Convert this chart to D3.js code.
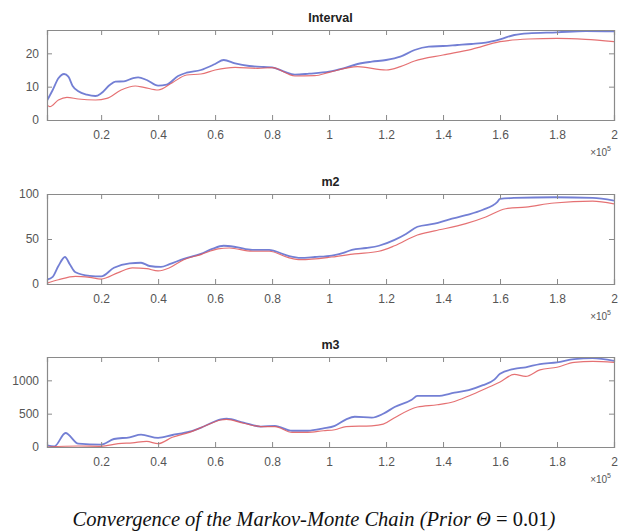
<!DOCTYPE html>
<html><head><meta charset="utf-8">
<script src="https://cdn.jsdelivr.net/npm/d3@7"></script>
<style>
body{margin:0;background:#fff;}
svg{display:block;}
</style></head>
<body>
<script>
// ---- data (x in units of 1e5 iterations) ----
const xTicks = [0.2,0.4,0.6,0.8,1,1.2,1.4,1.6,1.8,2];
const titles = ["Interval","m2","m3"];
const yDomains = [[0,27],[0,100],[0,1350]];
const yTicks = [[0,10,20],[0,50,100],[0,500,1000]];

const intervalBlue = [[0.01,5.8],[0.03,9],[0.05,12.5],[0.07,13.8],[0.085,13],[0.1,10.2],[0.12,8.6],[0.15,7.6],[0.18,7.2],[0.2,8],[0.23,10.5],[0.25,11.5],[0.28,11.6],[0.31,12.5],[0.33,12.8],[0.36,12],[0.4,10.3],[0.43,10.6],[0.47,13.2],[0.5,14.2],[0.55,15],[0.6,16.8],[0.63,18],[0.67,17],[0.72,16.2],[0.77,15.9],[0.8,15.8],[0.84,14.6],[0.88,13.6],[0.93,13.9],[1.0,14.5],[1.05,15.5],[1.1,16.8],[1.15,17.5],[1.2,18],[1.25,19],[1.3,21],[1.35,22],[1.4,22.2],[1.45,22.5],[1.5,22.8],[1.55,23.2],[1.6,24.2],[1.65,25.5],[1.7,26],[1.8,26.3],[1.9,26.7],[2.0,26.6]];
const intervalRed = [[0.01,4.5],[0.02,4],[0.05,6],[0.08,6.8],[0.12,6.3],[0.18,6],[0.22,6.5],[0.27,9],[0.32,10.2],[0.35,9.8],[0.4,9],[0.45,11.2],[0.5,13.5],[0.55,13.8],[0.6,15],[0.67,15.8],[0.75,15.5],[0.8,15.7],[0.88,13.2],[0.95,13.3],[1.0,14.3],[1.1,16],[1.2,15],[1.25,16],[1.3,17.7],[1.4,19.5],[1.5,21.2],[1.6,23.5],[1.7,24.3],[1.8,24.5],[1.9,24.2],[2.0,23.5]];

const m2Blue = [[0.01,5],[0.03,8],[0.05,20],[0.073,30],[0.09,22],[0.11,13],[0.16,9],[0.2,8.4],[0.245,18],[0.3,23],[0.34,23.6],[0.37,20],[0.41,19],[0.44,22],[0.49,28],[0.55,33.5],[0.59,39],[0.63,42.5],[0.675,41],[0.73,38],[0.79,38],[0.81,36.4],[0.86,31],[0.9,29],[0.95,30],[1.01,31.6],[1.05,34.5],[1.08,38],[1.13,40],[1.175,42.5],[1.23,49],[1.27,55.6],[1.31,63.6],[1.37,67],[1.42,71.6],[1.48,76.4],[1.54,82.5],[1.59,91],[1.6,94.5],[1.65,95.6],[1.79,96.4],[1.925,95.6],[2.0,92.7]];
const m2Red = [[0.01,1],[0.05,4.7],[0.11,8.4],[0.16,7.3],[0.2,5.5],[0.26,12.7],[0.31,18],[0.36,17],[0.4,14.5],[0.44,18],[0.49,27],[0.55,32.7],[0.61,39],[0.65,40],[0.73,36.4],[0.79,36.4],[0.86,29],[0.9,27],[1.01,30],[1.09,33.5],[1.175,36.4],[1.23,42.5],[1.31,54.5],[1.37,59],[1.48,67],[1.55,74.5],[1.62,83.6],[1.69,85.5],[1.79,90],[1.925,92],[2.0,89]];

const m3Blue = [[0.01,25],[0.036,10],[0.075,210],[0.12,50],[0.2,35],[0.245,120],[0.3,146],[0.34,185],[0.4,137],[0.45,180],[0.51,230],[0.56,307],[0.62,415],[0.64,425],[0.7,366],[0.76,307],[0.81,317],[0.87,244],[0.925,244],[0.98,278],[1.02,317],[1.06,415],[1.09,454],[1.15,440],[1.19,498],[1.23,600],[1.29,708],[1.31,766],[1.38,766],[1.44,815],[1.49,854],[1.54,927],[1.58,1010],[1.6,1098],[1.65,1171],[1.69,1196],[1.74,1244],[1.8,1269],[1.86,1318],[1.925,1332],[2.0,1293]];
const m3Red = [[0.01,0],[0.12,15],[0.2,10],[0.26,50],[0.31,63],[0.36,83],[0.4,50],[0.45,146],[0.51,220],[0.56,307],[0.62,405],[0.64,415],[0.7,356],[0.76,307],[0.81,307],[0.87,220],[0.925,220],[0.98,244],[1.02,259],[1.06,307],[1.15,317],[1.19,342],[1.23,440],[1.31,600],[1.38,634],[1.44,683],[1.49,766],[1.55,878],[1.6,976],[1.65,1088],[1.69,1059],[1.74,1157],[1.8,1196],[1.86,1269],[1.925,1283],[2.0,1269]];

const blueSeries = [intervalBlue, m2Blue, m3Blue];
const redSeries = [intervalRed, m2Red, m3Red];

// ---- layout ----
const W = 619, H = 531;
const left = 47, right = 614;
const tops = [30, 194, 357], ph = 90;

const svg = d3.select("body").append("svg").attr("width", W).attr("height", H);
const x = d3.scaleLinear().domain([0.01, 2]).range([left, right]);
const axisColor = "#8a8a8a", textColor = "#555";
const font = "'Liberation Sans', Arial, sans-serif";

titles.forEach((t, i) => {
  const top = tops[i], bot = top + ph;
  const y = d3.scaleLinear().domain(yDomains[i]).range([bot, top]);
  const g = svg.append("g");

  // lines
  const line = d3.line().x(d => x(d[0])).y(d => y(d[1])).curve(d3.curveMonotoneX);
  const clipId = "clip" + i;
  svg.append("clipPath").attr("id", clipId).append("rect")
    .attr("x", left).attr("y", top - 1).attr("width", right - left).attr("height", ph + 2);
  g.append("path").datum(blueSeries[i]).attr("d", line)
    .attr("fill", "none").attr("stroke", "#5a68cc").attr("stroke-width", 1.8)
    .attr("stroke-opacity", 0.85).attr("clip-path", `url(#${clipId})`);
  g.append("path").datum(redSeries[i]).attr("d", line)
    .attr("fill", "none").attr("stroke", "#e0585a").attr("stroke-width", 1.2)
    .attr("stroke-opacity", 0.85).attr("clip-path", `url(#${clipId})`);

  // axes (MATLAB-like box, ticks inward)
  const tk = 5;
  const bottomAx = d3.axisBottom(x).tickValues(xTicks).tickSize(-tk).tickPadding(10)
    .tickFormat(d3.format("~g"));
  const gb = g.append("g").attr("transform", `translate(0,${bot})`).call(bottomAx);
  const gt = g.append("g").attr("transform", `translate(0,${top})`)
    .call(d3.axisTop(x).tickValues(xTicks).tickSize(-tk).tickFormat(""));
  const gl = g.append("g").attr("transform", `translate(${left},0)`)
    .call(d3.axisLeft(y).tickValues(yTicks[i]).tickSize(-tk).tickPadding(8).tickFormat(d3.format("d")));
  const gr = g.append("g").attr("transform", `translate(${right},0)`)
    .call(d3.axisRight(y).tickValues(yTicks[i]).tickSize(-tk).tickFormat(""));
  [gb, gt, gl, gr].forEach(a => {
    a.select(".domain").attr("stroke", axisColor).attr("stroke-width", 1.2);
    a.selectAll(".tick line").attr("stroke", axisColor);
    a.selectAll("text").attr("fill", textColor).style("font-family", font).style("font-size", "12px");
  });

  // title
  svg.append("text").attr("x", (left + right) / 2).attr("y", top - 8)
    .attr("text-anchor", "middle").style("font-family", font).style("font-size", "12.5px")
    .style("font-weight", "bold").attr("fill", "#222").text(t);

  // x10^5 exponent label
  const ex = svg.append("text").attr("x", 611).attr("y", bot + 36).attr("text-anchor", "end")
    .style("font-family", font).style("font-size", "10px").attr("fill", textColor);
  ex.append("tspan").text("×10");
  ex.append("tspan").attr("dy", -5).style("font-size", "7px").text("5");
});

// caption
const cap = svg.append("text").attr("x", 314).attr("y", 526).attr("text-anchor", "middle")
  .style("font-family", "'Liberation Serif', 'Times New Roman', serif").style("font-size", "20.5px")
  .style("font-style", "italic").attr("fill", "#111");
cap.append("tspan").text("Convergence of the Markov-Monte Chain (Prior ");
cap.append("tspan").text("Θ");
cap.append("tspan").style("font-style", "normal").text(" = 0.01");
cap.append("tspan").text(")");
</script>
</body></html>
